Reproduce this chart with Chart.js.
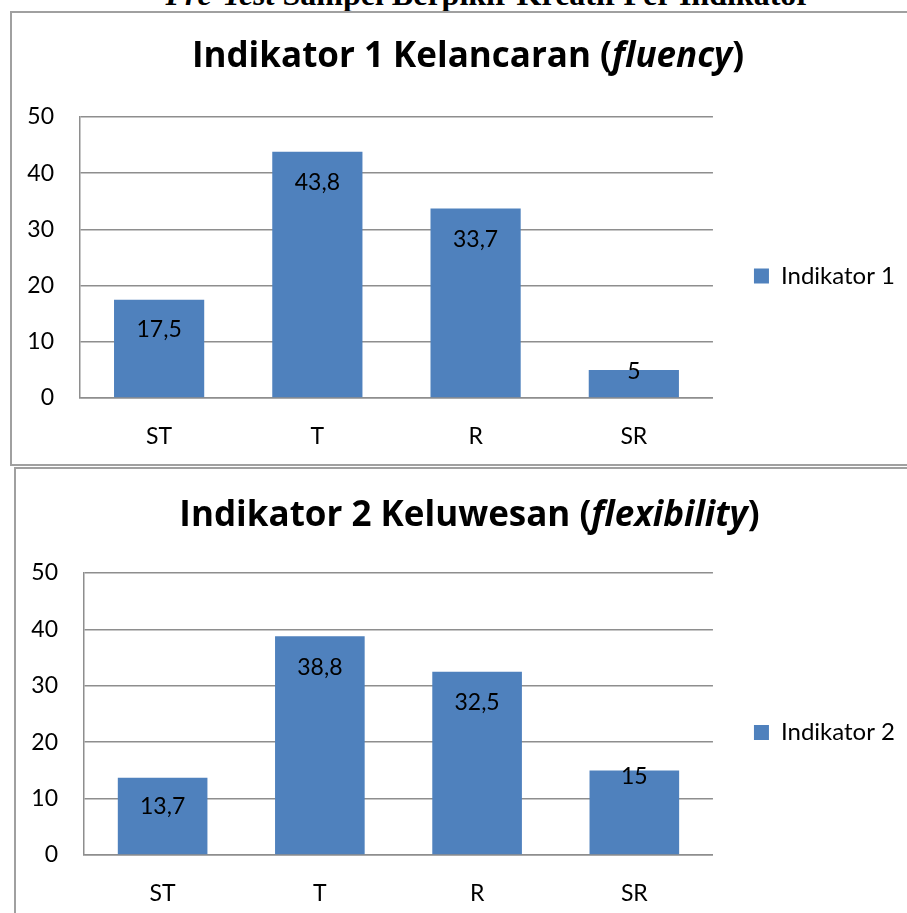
<!DOCTYPE html>
<html>
<head>
<meta charset="utf-8">
<script src="https://cdn.jsdelivr.net/npm/chart.js@4.4.1/dist/chart.umd.min.js"></script>
<style>
  body { margin: 0; width: 907px; height: 913px; overflow: hidden; background: #fff; position: relative; }
  .heading { position: absolute; left: 0; width: 976px; top: -19px; text-align: center;
             font: bold 32px "Liberation Serif", "Times New Roman", serif; line-height: 27px; white-space: nowrap; }
  .box { position: absolute; border: 2px solid #a0a0a0; box-sizing: border-box; background: #fff; }
  #box1 { left: 10px; top: 11px; width: 920px; height: 455px; }
  #box2 { left: 14px; top: 467px; width: 920px; height: 460px; }
  canvas { position: absolute; }
  #c1 { left: 12px; top: 13px; }
  #c2 { left: 16px; top: 469px; }
</style>
</head>
<body>
<div class="heading"><i>Pre-Test</i> Sampel Berpikir Kreatif Per Indikator</div>
<div class="box" id="box1"></div>
<div class="box" id="box2"></div>
<canvas id="c1" width="895" height="451"></canvas>
<canvas id="c2" width="891" height="444"></canvas>

<script>
// data
const CATEGORIES = ['ST', 'T', 'R', 'SR'];
const INDIKATOR_1 = [17.5, 43.8, 33.7, 5];
const INDIKATOR_2 = [13.7, 38.8, 32.5, 15];
const Y_MIN = 0;
const Y_MAX = 50;
const Y_STEP = 10;

const BAR_COLOR = '#4f81bd';
const GRID_COLOR = '#8e8e8e';
const FONT = "Lato, 'Open Sans', sans-serif";
const TITLE_FONT = "'Open Sans', Lato, sans-serif";

Chart.defaults.font.family = FONT;
Chart.defaults.color = '#000';

// title with an italic part (Chart.js title can't mix styles)
const mixedTitle = {
  id: 'mixedTitle',
  afterDraw(chart, args, opts) {
    if (!opts.parts) return;
    const ctx = chart.ctx;
    const t = chart.options.plugins.title;
    const cy = chart.titleBlock.top + t.padding.top + t.font.size / 2;
    const fonts = opts.parts.map(p => (p.italic ? 'italic ' : '') + 'bold ' + opts.size + 'px ' + TITLE_FONT);
    ctx.save();
    ctx.fillStyle = '#000';
    ctx.textBaseline = 'middle';
    let total = 0;
    opts.parts.forEach((p, i) => { ctx.font = fonts[i]; total += ctx.measureText(p.text).width; });
    let x = opts.centerX - total / 2;
    opts.parts.forEach((p, i) => {
      ctx.font = fonts[i];
      ctx.fillText(p.text, x, cy);
      x += ctx.measureText(p.text).width;
    });
    ctx.restore();
  }
};

// value labels just inside the top of each bar
const valueLabels = {
  id: 'valueLabels',
  afterDatasetsDraw(chart, args, opts) {
    const ctx = chart.ctx;
    const meta = chart.getDatasetMeta(0);
    const values = chart.data.datasets[0].data;
    ctx.save();
    ctx.font = '23px ' + FONT;
    ctx.fillStyle = '#000';
    ctx.textAlign = 'center';
    ctx.textBaseline = 'middle';
    meta.data.forEach((bar, i) => {
      ctx.fillText(String(values[i]).replace('.', ','), bar.x, bar.y + opts.offsets[i]);
    });
    ctx.restore();
  }
};

function makeChart(id, label, values, cfg) {
  return new Chart(document.getElementById(id), {
    type: 'bar',
    data: {
      labels: CATEGORIES,
      datasets: [{
        label: label,
        data: values,
        backgroundColor: BAR_COLOR,
        borderWidth: 0,
        barPercentage: 0.57,
        categoryPercentage: 1
      }]
    },
    options: {
      responsive: false,
      animation: false,
      events: [],
      layout: { padding: { left: 0, right: cfg.padRight, top: 0, bottom: cfg.padBottom } },
      plugins: {
        title: {
          display: true,
          text: cfg.parts.map(p => p.text).join(''),
          color: 'rgba(0,0,0,0)',
          font: { size: 33, weight: 'bold', lineHeight: 1 },
          padding: { top: cfg.titleTop, bottom: cfg.titleBottom }
        },
        mixedTitle: { parts: cfg.parts, size: 35, centerX: cfg.centerX },
        valueLabels: { offsets: cfg.offsets },
        tooltip: { enabled: false },
        legend: {
          position: 'right',
          fullSize: false,
          title: { display: true, text: '', padding: 0, font: { size: 37, lineHeight: 1 } },
          labels: { boxWidth: 15, boxHeight: 15, padding: 41, font: { size: 24 }, color: '#000' }
        }
      },
      scales: {
        x: {
          grid: { display: false, tickLength: 0 },
          border: { display: true, color: GRID_COLOR, width: 1.5 },
          ticks: { font: { size: 23 }, padding: 25, color: '#000' },
          afterFit(scale) { scale.height = 56; }
        },
        y: {
          min: Y_MIN,
          max: Y_MAX,
          ticks: { stepSize: Y_STEP, font: { size: 23 }, padding: 26, color: '#000' },
          grid: { color: GRID_COLOR, lineWidth: 1.5, drawTicks: false },
          border: { display: true, color: GRID_COLOR, width: 1.5 },
          afterFit(scale) { scale.width = 68; }
        }
      }
    },
    plugins: [mixedTitle, valueLabels]
  });
}

makeChart('c1', 'Indikator 1', INDIKATOR_1, {
  parts: [{ text: 'Indikator 1 Kelancaran (' }, { text: 'fluency', italic: true }, { text: ')' }],
  centerX: 456, titleTop: 27.5, titleBottom: 43.5, padRight: 2, padBottom: 10,
  offsets: [30, 31, 31, 2]
});

makeChart('c2', 'Indikator 2', INDIKATOR_2, {
  parts: [{ text: 'Indikator 2 Keluwesan (' }, { text: 'flexibility', italic: true }, { text: ')' }],
  centerX: 453.5, titleTop: 31, titleBottom: 40, padRight: 2, padBottom: 2,
  offsets: [29, 31, 31, 6]
});
</script>
</body>
</html>
